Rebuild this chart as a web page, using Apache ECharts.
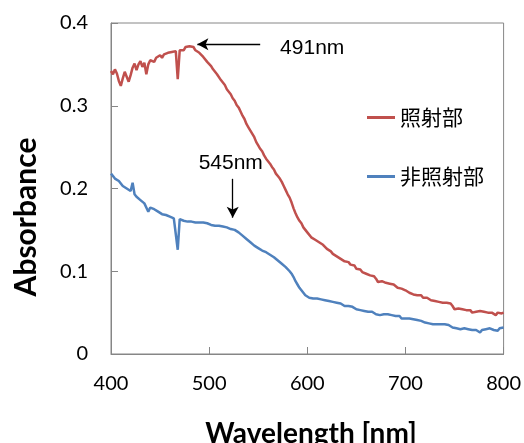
<!DOCTYPE html>
<html>
<head>
<meta charset="utf-8">
<script src="https://cdn.jsdelivr.net/npm/echarts@6/dist/echarts.min.js"></script>
<style>
  html, body { margin: 0; padding: 0; background: #fff; }
  #main { width: 524px; height: 443px; }
</style>
</head>
<body>
<div id="main"></div>
<script>
// sampling grid of the spectra, nm
var wavelength = [];
for (var w = 400; w <= 800; w += 2) wavelength.push(w);

// 照射部 (irradiated)
var irradiated = [
  0.342, 0.338, 0.344, 0.339, 0.330, 0.324, 0.333, 0.341, 0.335, 0.329,
  0.337, 0.346, 0.351, 0.343, 0.350, 0.354, 0.347, 0.352, 0.338, 0.350,
  0.355, 0.357, 0.353, 0.358, 0.356, 0.361, 0.358, 0.362, 0.360, 0.364,
  0.362, 0.365, 0.363, 0.366, 0.332, 0.367, 0.369, 0.367, 0.371, 0.369,
  0.372, 0.370, 0.371, 0.367, 0.368, 0.364, 0.362, 0.359, 0.357, 0.353,
  0.351, 0.348, 0.344, 0.342, 0.338, 0.336, 0.331, 0.328, 0.325, 0.320,
  0.317, 0.314, 0.309, 0.306, 0.301, 0.298, 0.293, 0.288, 0.284, 0.278,
  0.274, 0.270, 0.266, 0.262, 0.256, 0.252, 0.248, 0.245, 0.240, 0.236,
  0.233, 0.230, 0.226, 0.223, 0.218, 0.215, 0.212, 0.208, 0.203, 0.198,
  0.193, 0.189, 0.183, 0.176, 0.170, 0.165, 0.161, 0.158, 0.153, 0.150,
  0.147, 0.145, 0.141, 0.142, 0.138, 0.137, 0.135, 0.136, 0.132, 0.130,
  0.127, 0.128, 0.124, 0.121, 0.122, 0.118, 0.117, 0.115, 0.116, 0.112,
  0.110, 0.111, 0.108, 0.106, 0.107, 0.103, 0.101, 0.102, 0.099, 0.100,
  0.097, 0.096, 0.095, 0.093, 0.094, 0.091, 0.087, 0.085, 0.088, 0.087,
  0.086, 0.087, 0.085, 0.083, 0.084, 0.082, 0.080, 0.081, 0.079, 0.078,
  0.077, 0.075, 0.074, 0.075, 0.072, 0.073, 0.071, 0.070, 0.071, 0.068,
  0.067, 0.068, 0.066, 0.065, 0.063, 0.064, 0.062, 0.063, 0.061, 0.062,
  0.063, 0.062, 0.063, 0.061, 0.058, 0.054, 0.053, 0.055, 0.053, 0.054,
  0.052, 0.053, 0.051, 0.053, 0.050, 0.052, 0.051, 0.049, 0.052, 0.050,
  0.051, 0.049, 0.050, 0.048, 0.050, 0.049, 0.047, 0.050, 0.048, 0.049,
  0.050
];

// 非照射部 (non-irradiated)
var nonIrradiated = [
  0.218, 0.215, 0.212, 0.214, 0.209, 0.206, 0.203, 0.205, 0.200, 0.198,
  0.197, 0.207, 0.193, 0.190, 0.188, 0.186, 0.185, 0.182, 0.180, 0.172,
  0.177, 0.176, 0.175, 0.173, 0.172, 0.171, 0.169, 0.170, 0.168, 0.167,
  0.166, 0.166, 0.164, 0.165, 0.126, 0.163, 0.162, 0.161, 0.162, 0.160,
  0.161, 0.160, 0.161, 0.159, 0.160, 0.159, 0.158, 0.159, 0.157, 0.158,
  0.157, 0.156, 0.156, 0.155, 0.154, 0.155, 0.153, 0.154, 0.152, 0.153,
  0.152, 0.151, 0.151, 0.150, 0.149, 0.147, 0.145, 0.143, 0.141, 0.139,
  0.137, 0.135, 0.133, 0.131, 0.130, 0.128, 0.127, 0.125, 0.125, 0.123,
  0.122, 0.120, 0.118, 0.117, 0.115, 0.113, 0.111, 0.109, 0.107, 0.105,
  0.103, 0.100, 0.097, 0.093, 0.088, 0.084, 0.080, 0.077, 0.074, 0.071,
  0.069, 0.068, 0.069, 0.067, 0.066, 0.067, 0.065, 0.066, 0.064, 0.065,
  0.063, 0.064, 0.062, 0.063, 0.061, 0.062, 0.060, 0.061, 0.059, 0.058,
  0.057, 0.058, 0.056, 0.057, 0.055, 0.054, 0.055, 0.053, 0.054, 0.052,
  0.052, 0.051, 0.050, 0.051, 0.049, 0.048, 0.046, 0.047, 0.046, 0.048,
  0.049, 0.048, 0.049, 0.047, 0.046, 0.046, 0.045, 0.046, 0.043, 0.044,
  0.043, 0.042, 0.043, 0.041, 0.042, 0.040, 0.041, 0.039, 0.040, 0.038,
  0.038, 0.039, 0.037, 0.038, 0.036, 0.037, 0.036, 0.035, 0.036, 0.035,
  0.036, 0.037, 0.035, 0.033, 0.032, 0.031, 0.031, 0.032, 0.030, 0.031,
  0.031, 0.032, 0.030, 0.031, 0.029, 0.031, 0.029, 0.027, 0.026, 0.029,
  0.028, 0.030, 0.029, 0.031, 0.030, 0.029, 0.030, 0.028, 0.031, 0.031,
  0.032
];

var xTicks = [400, 500, 600, 700, 800];
var yTicks = [0, 0.1, 0.2, 0.3, 0.4];
var seriesNames = ['照射部', '非照射部'];

function pairs(vals) {
  return vals.map(function (v, i) { return [wavelength[i], v]; });
}

var axisGray = '#868686';
var chart = echarts.init(document.getElementById('main'));

chart.setOption({
  animation: false,
  backgroundColor: '#fff',
  grid: {
    left: 111, top: 23, right: 20, bottom: 89,
    show: true, borderColor: axisGray, borderWidth: 1
  },
  legend: {
    orient: 'vertical',
    left: 362, top: 102,
    itemWidth: 28, itemHeight: 3, itemGap: 38,
    icon: 'rect',
    textStyle: { fontFamily: 'Noto Sans CJK JP', fontSize: 21, lineHeight: 21, color: '#000' },
    data: seriesNames
  },
  xAxis: {
    type: 'value',
    min: xTicks[0], max: xTicks[xTicks.length - 1], interval: 100,
    axisLine: { lineStyle: { color: axisGray, width: 1 } },
    axisTick: { inside: true, length: 7, lineStyle: { color: axisGray } },
    axisLabel: { fontFamily: 'Lato', fontSize: 20, color: '#000', margin: 20 },
    splitLine: { show: false }
  },
  yAxis: {
    type: 'value',
    min: yTicks[0], max: yTicks[yTicks.length - 1], interval: 0.1,
    axisLine: { show: true, lineStyle: { color: axisGray, width: 1 } },
    axisTick: { show: true, inside: true, length: 7, lineStyle: { color: axisGray } },
    axisLabel: { fontFamily: 'Lato', fontSize: 20, color: '#000', margin: 23 },
    splitLine: { show: false }
  },
  series: [
    {
      name: seriesNames[0],
      type: 'line',
      data: pairs(irradiated),
      showSymbol: false,
      color: '#C0504D',
      lineStyle: { width: 2.5, color: '#C0504D' },
      markLine: {
        silent: true,
        symbol: ['none', 'arrow'],
        symbolSize: [9, 11],
        label: { show: false },
        lineStyle: { color: '#000', width: 1.3, type: 'solid' },
        data: [[{ coord: [552, 0.3743] }, { coord: [488, 0.3743] }]]
      },
      markPoint: {
        silent: true,
        symbol: 'circle', symbolSize: 1,
        itemStyle: { color: 'rgba(0,0,0,0)' },
        label: {
          show: true, position: 'inside',
          fontFamily: 'Liberation Sans', fontSize: 21, color: '#000',
          formatter: function (p) { return p.name; }
        },
        data: [{ name: '491nm', coord: [605, 0.369] }]
      }
    },
    {
      name: seriesNames[1],
      type: 'line',
      data: pairs(nonIrradiated),
      showSymbol: false,
      color: '#4F81BD',
      lineStyle: { width: 2.5, color: '#4F81BD' },
      markLine: {
        silent: true,
        symbol: ['none', 'arrow'],
        symbolSize: [9, 11],
        label: { show: false },
        lineStyle: { color: '#000', width: 1.3, type: 'solid' },
        data: [[{ coord: [524, 0.2117] }, { coord: [524, 0.1647] }]]
      },
      markPoint: {
        silent: true,
        symbol: 'circle', symbolSize: 1,
        itemStyle: { color: 'rgba(0,0,0,0)' },
        label: {
          show: true, position: 'inside',
          fontFamily: 'Liberation Sans', fontSize: 21, color: '#000',
          formatter: function (p) { return p.name; }
        },
        data: [{ name: '545nm', coord: [522, 0.231] }]
      }
    }
  ],
  graphic: [
    {
      type: 'text', x: 26, y: 217, rotation: Math.PI / 2,
      style: {
        text: 'Absorbance', font: 'bold 30px Lato', fill: '#000',
        textAlign: 'center', textVerticalAlign: 'middle'
      }
    },
    {
      type: 'text', x: 311, y: 434,
      style: {
        text: 'Wavelength [nm]', font: 'bold 28px Lato', fill: '#000',
        textAlign: 'center', textVerticalAlign: 'middle'
      }
    }
  ]
});
</script>
</body>
</html>
